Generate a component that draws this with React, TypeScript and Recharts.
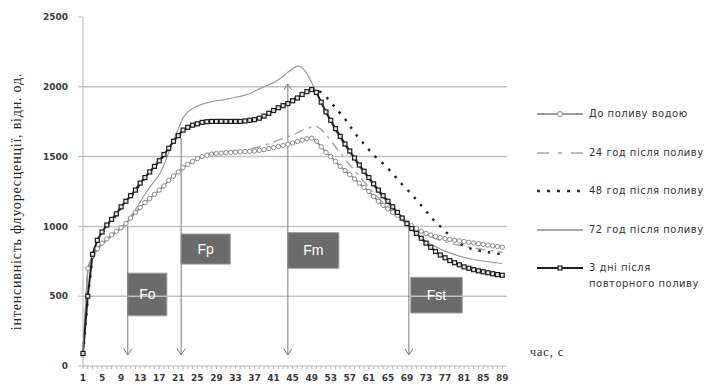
import { LineChart, Line, XAxis, YAxis, ReferenceLine, ReferenceArea } from 'recharts'

// час, с
const seconds = Array.from({ length: 89 }, (_, i) => i + 1)

const beforeWatering = [
  80, 700, 790, 840, 880, 910, 940, 965, 990, 1020, 1060, 1100, 1135, 1170, 1200, 1230, 1260, 1290, 1330, 1360,
  1390, 1420, 1445, 1465, 1485, 1500, 1510, 1518, 1522, 1525, 1528, 1530, 1532, 1534, 1536, 1538, 1540, 1545, 1550, 1558,
  1565, 1572, 1580, 1588, 1598, 1608, 1618, 1628, 1632, 1610, 1570, 1530, 1500, 1465, 1430, 1400, 1370, 1340, 1310, 1280,
  1250, 1215, 1180, 1150, 1125, 1100, 1080, 1055, 1030, 1005, 985, 965, 950, 938, 928, 920, 913, 907, 901, 896,
  891, 886, 881, 876, 871, 866, 861, 856, 852,
]
const after24h = [
  80, 690, 785, 835, 875, 905, 935, 962, 988, 1018, 1055, 1095, 1130, 1165, 1195, 1228, 1258, 1290, 1330, 1362,
  1392, 1422, 1448, 1470, 1490, 1508, 1518, 1525, 1530, 1532, 1535, 1537, 1540, 1545, 1550, 1555, 1562, 1570, 1580, 1592,
  1605, 1618, 1630, 1642, 1655, 1670, 1688, 1702, 1712, 1718, 1695, 1660, 1615, 1570, 1525, 1480, 1440, 1400, 1360, 1320,
  1280, 1240, 1205, 1170, 1140, 1110, 1080, 1055, 1030, 1005, 980, 958, 940, 925, 912, 900, 890, 880, 872, 865,
  858, 852, 846, 840, 835, 830, 825, 820, 815,
]
const after48h = [
  90, 480, 790, 895, 955, 1005, 1045, 1078, 1135, 1175, 1215, 1255, 1305, 1345, 1385, 1425, 1465, 1510, 1555, 1600,
  1640, 1680, 1705, 1720, 1730, 1740, 1745, 1748, 1748, 1748, 1748, 1748, 1748, 1748, 1752, 1758, 1765, 1775, 1790, 1810,
  1830, 1850, 1868, 1885, 1905, 1925, 1948, 1965, 1975, 1975, 1960, 1930, 1890, 1850, 1810, 1770, 1720, 1670, 1630, 1590,
  1550, 1510, 1480, 1450, 1415, 1380, 1340, 1300, 1265, 1230, 1190, 1150, 1110, 1070, 1030, 1000, 965, 935, 905, 880,
  860, 845, 835, 828, 820, 815, 810, 805, 800,
]
const after72h = [
  80, 690, 780, 830, 870, 900, 930, 958, 985, 1020, 1070, 1120, 1175, 1230, 1280, 1325, 1370, 1440, 1530, 1620,
  1700, 1780, 1820, 1845, 1862, 1875, 1885, 1893, 1900, 1905, 1910, 1918, 1925, 1932, 1940, 1952, 1968, 1985, 2000, 2015,
  2030, 2050, 2075, 2105, 2130, 2150, 2140, 2095, 2030, 1960, 1885, 1810, 1745, 1685, 1630, 1575, 1525, 1475, 1425, 1380,
  1335, 1290, 1245, 1205, 1165, 1125, 1085, 1045, 1010, 975, 945, 918, 895, 873, 855, 838, 823, 810, 798, 787,
  778, 770, 763, 757, 752, 747, 742, 738, 735,
]
const afterRepeat = [
  90, 500, 800, 900, 960, 1010, 1050, 1090, 1140, 1180, 1220, 1260, 1310, 1350, 1390, 1430, 1470, 1515, 1560, 1610,
  1650, 1690, 1710, 1725, 1735, 1745, 1750, 1752, 1752, 1752, 1752, 1752, 1752, 1752, 1755, 1760, 1765, 1775, 1790, 1810,
  1830, 1850, 1865, 1880, 1900, 1920, 1945, 1965, 1980, 1960, 1890, 1820, 1760, 1700, 1645, 1590, 1540, 1490, 1440, 1395,
  1350, 1305, 1260, 1220, 1180, 1140, 1100, 1060, 1020, 985, 950, 915, 880, 850, 820, 795, 775, 755, 740, 725,
  710, 700, 690, 682, 675, 668, 661, 655, 650,
]

const xTicks = seconds
const yTicks = [0, 500, 1000, 1500, 2000, 2500]
const gridValues = [500, 1000, 1500, 2000]

// arrows marking the fluorescence levels
const markers = [
  { name: 'Fo', t: 10.4, top: 1000, box: [10.4, 18.6, 360, 665] },
  { name: 'Fp', t: 21.6, top: 1630, box: [21.6, 31.9, 730, 945] },
  { name: 'Fm', t: 44, top: 2020, box: [44, 54.7, 700, 955] },
  { name: 'Fst', t: 69.4, top: 1000, box: [69.8, 80.6, 380, 635] },
]

const data = seconds.map((t, i) => ({
  t,
  s1: beforeWatering[i],
  s2: after24h[i],
  s3: after48h[i],
  s4: after72h[i],
  s5: afterRepeat[i],
}))

const TICK_FONT = { fontFamily: 'DejaVu Sans', fontSize: 9, fontWeight: 'bold', fill: '#3a3a3a' }

function XTick({ x, y, payload }: any) {
  if ((payload.value - 1) % 4 !== 0) return <g />
  return (
    <text x={x} y={y + 10} textAnchor="middle" {...TICK_FONT}>
      {payload.value}
    </text>
  )
}

function Arrow({ x1, y1, x2, y2, both }: any) {
  const top = Math.min(y1, y2)
  const bottom = Math.max(y1, y2)
  return (
    <g stroke="#7a7a7a" strokeWidth={1} fill="none">
      <line x1={x1} y1={top} x2={x2} y2={bottom} />
      <polyline points={`${x1 - 4},${bottom - 6} ${x1},${bottom} ${x1 + 4},${bottom - 6}`} />
      {both && <polyline points={`${x1 - 4},${top + 6} ${x1},${top} ${x1 + 4},${top + 6}`} />}
    </g>
  )
}

function SquareDot({ cx, cy, index }: any) {
  return <rect key={index} x={cx - 2} y={cy - 2} width={4} height={4} fill="#e6e6e6" stroke="#1e1e1e" strokeWidth={1.2} />
}

const legendItems = [
  { label: ['До поливу водою'], icon: 'circle' },
  { label: ['24 год після поливу'], icon: 'dashdot' },
  { label: ['48 год після поливу'], icon: 'dots' },
  { label: ['72 год після поливу'], icon: 'thin' },
  { label: ['3 дні після', 'повторного поливу'], icon: 'square' },
]

function LegendIcon({ kind }: { kind: string }) {
  return (
    <svg width={48} height={12} style={{ flex: 'none' }}>
      {kind === 'circle' && (
        <>
          <line x1={0} x2={46} y1={6} y2={6} stroke="#7a7a7a" strokeWidth={1.5} />
          <circle cx={23} cy={6} r={2.5} fill="#fff" stroke="#8c8c8c" />
        </>
      )}
      {kind === 'dashdot' && <line x1={0} x2={46} y1={6} y2={6} stroke="#a8a8a8" strokeWidth={1.5} strokeDasharray="12 9 4 9 12" />}
      {kind === 'dots' && <line x1={0} x2={46} y1={6} y2={6} stroke="#2a2a2a" strokeWidth={2.5} strokeDasharray="3 7" />}
      {kind === 'thin' && <line x1={0} x2={46} y1={6} y2={6} stroke="#aaaaaa" strokeWidth={2} />}
      {kind === 'square' && (
        <>
          <line x1={0} x2={46} y1={6} y2={6} stroke="#1e1e1e" strokeWidth={2} />
          <rect x={21} y={4} width={4} height={4} fill="#e6e6e6" stroke="#1e1e1e" strokeWidth={1.2} />
        </>
      )}
    </svg>
  )
}

function ChartLegend() {
  return (
    <div
      style={{
        position: 'absolute',
        left: 537,
        top: 108,
        width: 184,
        fontFamily: 'DejaVu Sans',
        fontSize: 10,
        color: '#333',
        letterSpacing: 0.5,
      }}
    >
      {legendItems.map((item) => (
        <div key={item.label[0]} style={{ display: 'flex', alignItems: 'flex-start', height: 38.5 }}>
          <LegendIcon kind={item.icon} />
          <div style={{ marginLeft: 4, lineHeight: '16px', marginTop: -2 }}>
            {item.label.map((l) => (
              <div key={l}>{l}</div>
            ))}
          </div>
        </div>
      ))}
    </div>
  )
}

export default function App() {
  return (
    <div style={{ position: 'absolute', left: 0, top: 0, width: 721, height: 387, background: '#fff' }}>
      <LineChart width={721} height={387} data={data} margin={{ top: 17, right: 214, bottom: 0, left: 0 }}>
        {gridValues.map((v) => (
          <ReferenceLine key={v} y={v} stroke="#c2c2c2" strokeWidth={1.5} />
        ))}
        <XAxis
          dataKey="t"
          type="number"
          domain={[1, 90]}
          ticks={xTicks}
          interval={0}
          height={21}
          tick={<XTick />}
          tickSize={3}
          tickMargin={2}
          stroke="#b5b5b5"
          label={{
            content: () => (
              <text x={530} y={356} style={{ fontFamily: 'Liberation Serif, serif', fontSize: 12, fill: '#222', letterSpacing: 1 }}>
                час, с
              </text>
            ),
          }}
        />
        <YAxis
          width={83}
          domain={[0, 2500]}
          ticks={yTicks}
          interval={0}
          tickSize={5}
          tickMargin={10}
          tick={TICK_FONT}
          stroke="#b5b5b5"
          label={{
            value: 'інтенсивність флуоресценції, відн. од.',
            angle: -90,
            position: 'insideLeft',
            offset: 16,
            dy: 10,
            style: { textAnchor: 'middle', fontFamily: 'Liberation Serif, serif', fontSize: 14, fill: '#222', letterSpacing: 0.8 },
          }}
        />
        {markers.map((m) => (
          <ReferenceArea
            key={m.name}
            x1={m.box[0]}
            x2={m.box[1]}
            y1={m.box[2]}
            y2={m.box[3]}
            fill="#6b6b6b"
            fillOpacity={1}
            stroke="#9a9a9a"
            label={{ value: m.name, position: 'center', fill: '#fff', fontSize: 14, fontFamily: 'Liberation Sans' }}
          />
        ))}
        {markers.map((m) => (
          <ReferenceLine
            key={'a' + m.name}
            segment={[
              { x: m.t, y: m.top },
              { x: m.t, y: 80 },
            ]}
            shape={(p: any) => <Arrow {...p} both={m.name === 'Fm'} />}
          />
        ))}
        <Line dataKey="s1" stroke="#7a7a7a" strokeWidth={1.5} dot={{ r: 2.2, stroke: '#8c8c8c', strokeWidth: 1, fill: '#fff' }} isAnimationActive={false} />
        <Line dataKey="s2" stroke="#a8a8a8" strokeWidth={1.5} strokeDasharray="10 5 3 5" dot={false} isAnimationActive={false} />
        <Line dataKey="s3" stroke="#2a2a2a" strokeWidth={2.5} strokeDasharray="2.5 7" dot={false} isAnimationActive={false} />
        <Line dataKey="s4" stroke="#9a9a9a" strokeWidth={1.2} dot={false} isAnimationActive={false} />
        <Line dataKey="s5" stroke="#1e1e1e" strokeWidth={2} dot={<SquareDot />} isAnimationActive={false} />
      </LineChart>
      <ChartLegend />
    </div>
  )
}
